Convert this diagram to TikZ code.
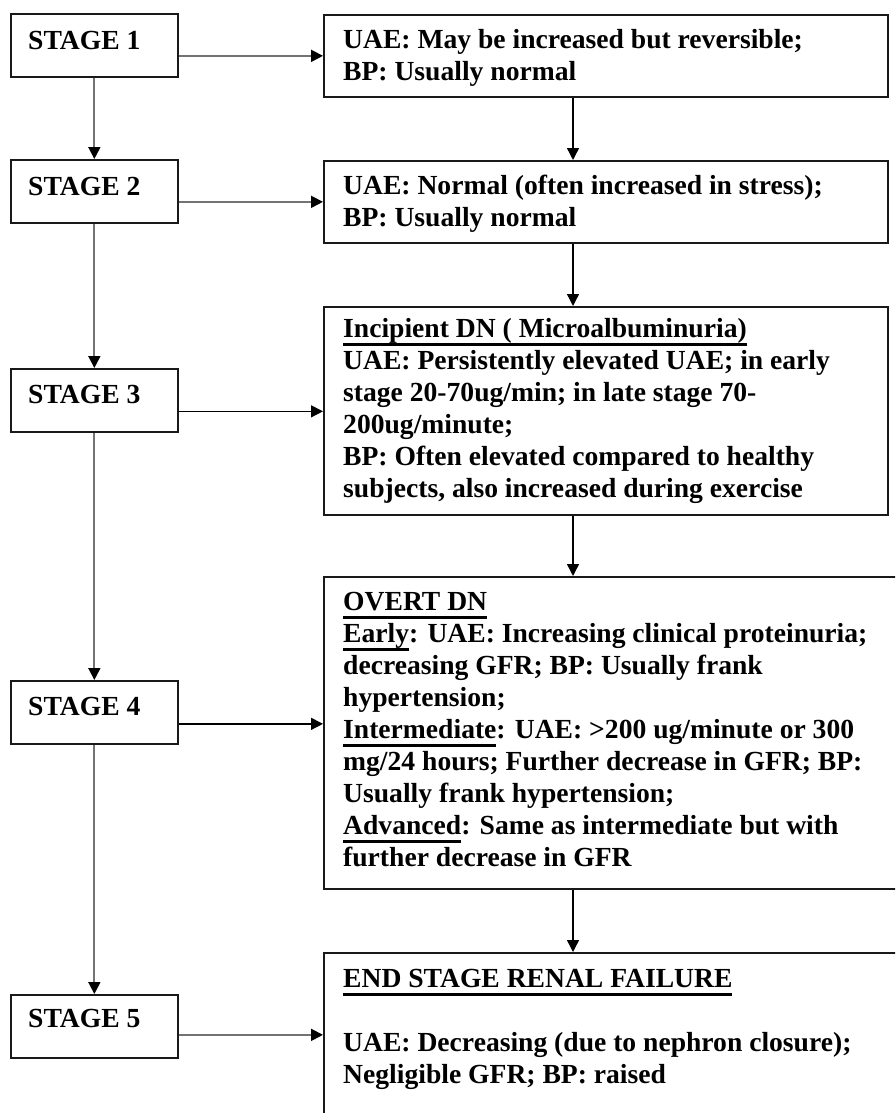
\documentclass[tikz,border=0pt]{standalone}
\usepackage{fontspec}
\setmainfont{Liberation Serif}
\usetikzlibrary{arrows.meta}
\newcommand\ulx[1]{\setbox0\hbox{#1}\rlap{\rule[-8.5pt]{\wd0}{2.5pt}}\box0}
\tikzset{
  stagebox/.style={draw=black!90, line width=1.7pt, minimum width=167pt, minimum height=63pt, inner sep=0pt, anchor=north west},
  infobox/.style={draw=black!90, line width=1.7pt, minimum width=564pt, inner sep=0pt, anchor=north west},
  stagetext/.style={inner sep=0pt, anchor=base west, font=\fontsize{27.6}{32}\selectfont\bfseries},
  infotext/.style={inner sep=0pt, anchor=north west, align=left, font=\fontsize{27.6}{32}\selectfont\bfseries},
  garrow/.style={draw=black!55, line width=1.8pt, -{Triangle[length=12pt,width=12pt,color=black]}},
  barrow/.style={draw=black, line width=1.4pt, -{Triangle[length=12pt,width=12pt,color=black]}}
}
\begin{document}
\begin{tikzpicture}[x=1pt,y=1pt]
\useasboundingbox (0,0) rectangle (895,-1113);
\clip (0,0) rectangle (895,-1113);
\fill[white] (0,0) rectangle (895,-1113);
\coordinate (rx) at (573,0);
% stage boxes
\node[stagebox] (s1) at (10,-13) {};
\node[stagebox] (s2) at (10,-159) {};
\node[stagebox] (s3) at (10,-368) {};
\node[stagebox] (s4) at (10,-680) {};
\node[stagebox] (s5) at (10,-994) {};
\node[stagetext] (s1t) at (28,-50) {STAGE 1};
\node[stagetext] (s2t) at (28,-195) {STAGE 2};
\node[stagetext] (s3t) at (28,-403) {STAGE 3};
\node[stagetext] (s4t) at (28,-715) {STAGE 4};
\node[stagetext] (s5t) at (28,-1027) {STAGE 5};
% info boxes
\node[infobox, minimum height=82pt] (b1) at (323,-14) {};
\node[infobox, minimum height=82pt] (b2) at (323,-160) {};
\node[infobox, minimum height=208pt] (b3) at (323,-306) {};
\node[infobox, minimum width=582pt, minimum height=312pt] (b4) at (323,-576) {};
\node[infobox, minimum width=582pt, minimum height=200pt] (b5) at (323,-952) {};
\node[infotext] (b1t) at (343,-25.6) {\strut UAE: May be increased but reversible;\\ BP: Usually normal};
\node[infotext] (b2t) at (343,-171.6) {\strut UAE: Normal (often increased in stress);\\ BP: Usually normal};
\node[infotext] (b3t) at (343,-314.6) {\strut\ulx{Incipient DN ( Microalbuminuria)}\\
UAE: Persistently elevated UAE; in early\\
stage 20-70ug/min; in late stage 70-\\
200ug/minute;\\
BP: Often elevated compared to healthy\\
subjects, also increased during exercise};
\node[infotext] (b4t) at (343,-587.6) {\strut\ulx{OVERT DN}\\
\ulx{Early}: UAE: Increasing clinical proteinuria;\\
decreasing GFR; BP: Usually frank\\
hypertension;\\
\ulx{Intermediate}: UAE: >200 ug/minute or 300\\
mg/24 hours; Further decrease in GFR; BP:\\
Usually frank hypertension;\\
\ulx{Advanced}: Same as intermediate but with\\
further decrease in GFR};
\node[infotext] (b5t) at (343,-964.6) {\strut\ulx{END STAGE RENAL FAILURE}\\
\mbox{}\\
UAE: Decreasing (due to nephron closure);\\
Negligible GFR; BP: raised};
% left vertical connectors
\draw[garrow] (s1.south) -- (s2.north);
\draw[garrow] (s2.south) -- (s3.north);
\draw[garrow] (s3.south) -- (s4.north);
\draw[garrow] (s4.south) -- (s5.north);
% horizontal connectors
\draw[garrow] ([yshift=-10.5pt]s1.east) -- ([yshift=-10.5pt]s1.east -| b1.west);
\draw[garrow] ([yshift=-10.5pt]s2.east) -- ([yshift=-10.5pt]s2.east -| b2.west);
\draw[barrow] ([yshift=-11pt]s3.east) -- ([yshift=-11pt]s3.east -| b3.west);
\draw[barrow] ([yshift=-11.5pt]s4.east) -- ([yshift=-11.5pt]s4.east -| b4.west);
\draw[garrow] ([yshift=-8.5pt]s5.east) -- ([yshift=-8.5pt]s5.east -| b5.west);
% right vertical connectors
\draw[barrow] (b1.south -| rx) -- (b2.north -| rx);
\draw[barrow] (b2.south -| rx) -- (b3.north -| rx);
\draw[barrow] (b3.south -| rx) -- (b4.north -| rx);
\draw[barrow] (b4.south -| rx) -- (b5.north -| rx);
\end{tikzpicture}
\end{document}
